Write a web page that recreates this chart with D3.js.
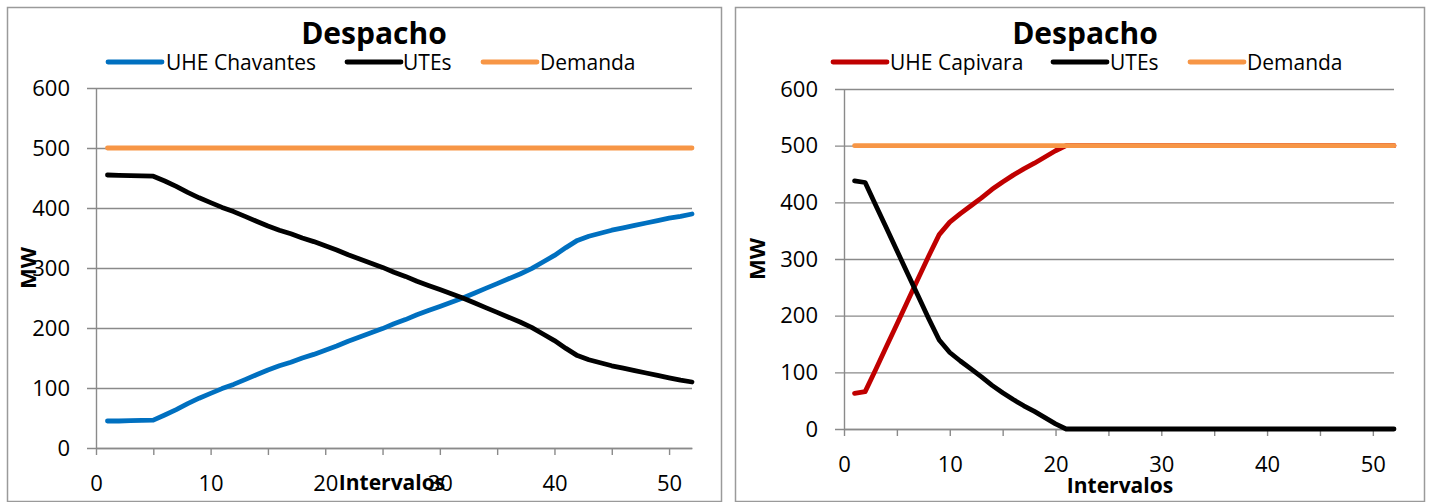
<!DOCTYPE html>
<html>
<head>
<meta charset="utf-8">
<script src="https://cdn.jsdelivr.net/npm/d3@7"></script>
<style>
  body { margin: 0; background: #ffffff; }
  svg text { font-family: "Open Sans", sans-serif; fill: #000; }
</style>
</head>
<body>
<div id="chart"></div>
<script>
// Data
const intervalos = [1,2,3,4,5,6,7,8,9,10,11,12,13,14,15,16,17,18,19,20,21,22,23,24,25,26,
                    27,28,29,30,31,32,33,34,35,36,37,38,39,40,41,42,43,44,45,46,47,48,49,50,51,52]

const uheChavantes = [45,45,45.5,46,46.5,55,64,74,83,91,99,106,114,122,130,137,143,150,156,163,170,178,185,192,199,207,
                      214,222,229,236,243,250,258,266,274,282,290,299,310,321,334,346,353,358,363,367,371,375,379,383,386,390]

const utesChavantes = [455,454.5,454,453.5,453,445,436,426,417,409,401,394,386,378,370,363,357,350,344,337,330,322,315,308,301,293,
                       286,278,271,264,257,250,242,234,226,218,210,201,190,179,166,154,147,142,137,133,129,125,121,117,113,110]

const uheCapivara = [63,66,105,145,185,225,265,305,343,365,380,394,408,423,436,448,459,469,480,491,500,500,500,500,500,500,
                     500,500,500,500,500,500,500,500,500,500,500,500,500,500,500,500,500,500,500,500,500,500,500,500,500,500]

const utesCapivara = [438,435,395,355,315,275,235,195,157,135,120,106,92,77,64,52,41,31,20,9,0,0,0,0,0,0,
                      0,0,0,0,0,0,0,0,0,0,0,0,0,0,0,0,0,0,0,0,0,0,0,0,0,0]

const demanda = [500,500,500,500,500,500,500,500,500,500,500,500,500,500,500,500,500,500,500,500,500,500,500,500,500,500,
                 500,500,500,500,500,500,500,500,500,500,500,500,500,500,500,500,500,500,500,500,500,500,500,500,500,500]

const yTicks = [0,100,200,300,400,500,600]
const xTicks = [0,5,10,15,20,25,30,35,40,45,50]
const xDomain = [0,52]
const yDomain = [0,600]

const colors = { uhe1: '#0070C0', uhe2: '#C00000', ute: '#000000', dem: '#F79646' }

// Dimensions
let dimensions = { width: 1432, height: 502 }

const svg = d3.select('#chart')
              .append('svg')
              .attr('width', dimensions.width)
              .attr('height', dimensions.height)

const panels = [
  {
    frame: [7.5, 7.5, 714, 494],
    plot: { left: 96, right: 692, top: 88, bottom: 448 },
    titleX: 374,
    mwX: 28,
    intervalosX: 392, intervalosY: 490,
    series: [
      { name: 'UHE Chavantes', values: uheChavantes, color: colors.uhe1, legendX: 108, textX: 166 },
      { name: 'UTEs', values: utesChavantes, color: colors.ute, legendX: 347, textX: 403 },
      { name: 'Demanda', values: demanda, color: colors.dem, legendX: 483, textX: 540 }
    ]
  },
  {
    frame: [735.5, 7.5, 689, 494],
    plot: { left: 844, right: 1394, top: 89, bottom: 429 },
    titleX: 1085,
    mwX: 757,
    intervalosX: 1120, intervalosY: 493,
    series: [
      { name: 'UHE Capivara', values: uheCapivara, color: colors.uhe2, legendX: 833, textX: 890 },
      { name: 'UTEs', values: utesCapivara, color: colors.ute, legendX: 1053, textX: 1110 },
      { name: 'Demanda', values: demanda, color: colors.dem, legendX: 1190, textX: 1247 }
    ]
  }
]

panels.forEach(p => {
  // frame
  svg.append('rect')
     .attr('x', p.frame[0]).attr('y', p.frame[1])
     .attr('width', p.frame[2]).attr('height', p.frame[3])
     .attr('fill', 'none')
     .attr('stroke', '#9a9a9a')
     .attr('stroke-width', 1.5)

  const w = p.plot.right - p.plot.left
  const h = p.plot.bottom - p.plot.top

  const container = svg.append('g')
                       .attr('transform', `translate(${p.plot.left},${p.plot.top})`)

  //Scales
  const xScale = d3.scaleLinear().domain(xDomain).range([0, w])
  const yScale = d3.scaleLinear().domain(yDomain).range([h, 0])

  // gridlines (with the short outside tick)
  const grid = container.append('g')
                        .attr('transform', 'translate(-9,0)')
                        .call(d3.axisLeft(yScale).tickValues(yTicks).tickSize(-(w + 9)).tickFormat(''))
  grid.select('.domain').remove()
  grid.selectAll('line').attr('stroke', '#8a8a8a').attr('stroke-width', 1.4)

  // Y labels
  const yAxisGroup = container.append('g')
                              .call(d3.axisLeft(yScale).tickValues(yTicks).tickSize(0).tickPadding(26))
  yAxisGroup.select('.domain').attr('stroke', '#8a8a8a').attr('stroke-width', 1.4)
  yAxisGroup.selectAll('text').attr('font-size', '22px').attr('font-family', 'Open Sans')

  // X axis
  const xAxisGroup = container.append('g')
                              .attr('transform', `translate(0,${h})`)
                              .call(d3.axisBottom(xScale).tickValues(xTicks).tickSizeInner(7).tickSizeOuter(0)
                                      .tickPadding(20).tickFormat(d => d % 10 === 0 ? d : ''))
  xAxisGroup.select('.domain').attr('stroke', '#8a8a8a').attr('stroke-width', 1.4)
  xAxisGroup.selectAll('line').attr('stroke', '#8a8a8a').attr('stroke-width', 1.4)
  xAxisGroup.selectAll('text').attr('font-size', '22px').attr('font-family', 'Open Sans')

  // lines
  const line = d3.line()
                 .x((d, i) => xScale(intervalos[i]))
                 .y(d => yScale(d))

  p.series.forEach(s => {
    container.append('path')
             .datum(s.values)
             .attr('d', line)
             .attr('fill', 'none')
             .attr('stroke', s.color)
             .attr('stroke-width', 4.8)
             .attr('stroke-linejoin', 'round')
             .attr('stroke-linecap', 'round')
  })

  //Title
  svg.append('text')
     .attr('x', p.titleX)
     .attr('y', 44)
     .attr('font-size', '30px')
     .attr('font-weight', 'bold')
     .attr('text-anchor', 'middle')
     .text('Despacho')

  // Legend
  p.series.forEach(s => {
    svg.append('line')
       .attr('x1', s.legendX).attr('x2', s.legendX + 54)
       .attr('y1', 62).attr('y2', 62)
       .attr('stroke', s.color)
       .attr('stroke-width', 4.8)
       .attr('stroke-linecap', 'round')
    svg.append('text')
       .attr('x', s.textX)
       .attr('y', 70)
       .attr('font-size', '21px')
       .text(s.name)
  })

  // axis titles
  svg.append('text')
     .attr('transform', `translate(${p.mwX + 8},${(p.plot.top + p.plot.bottom) / 2}) rotate(-90)`)
     .attr('font-size', '22px')
     .attr('font-weight', 'bold')
     .attr('text-anchor', 'middle')
     .text('MW')

  svg.append('text')
     .attr('x', p.intervalosX)
     .attr('y', p.intervalosY)
     .attr('font-size', '21px')
     .attr('font-weight', 'bold')
     .attr('text-anchor', 'middle')
     .text('Intervalos')
})
</script>
</body>
</html>
